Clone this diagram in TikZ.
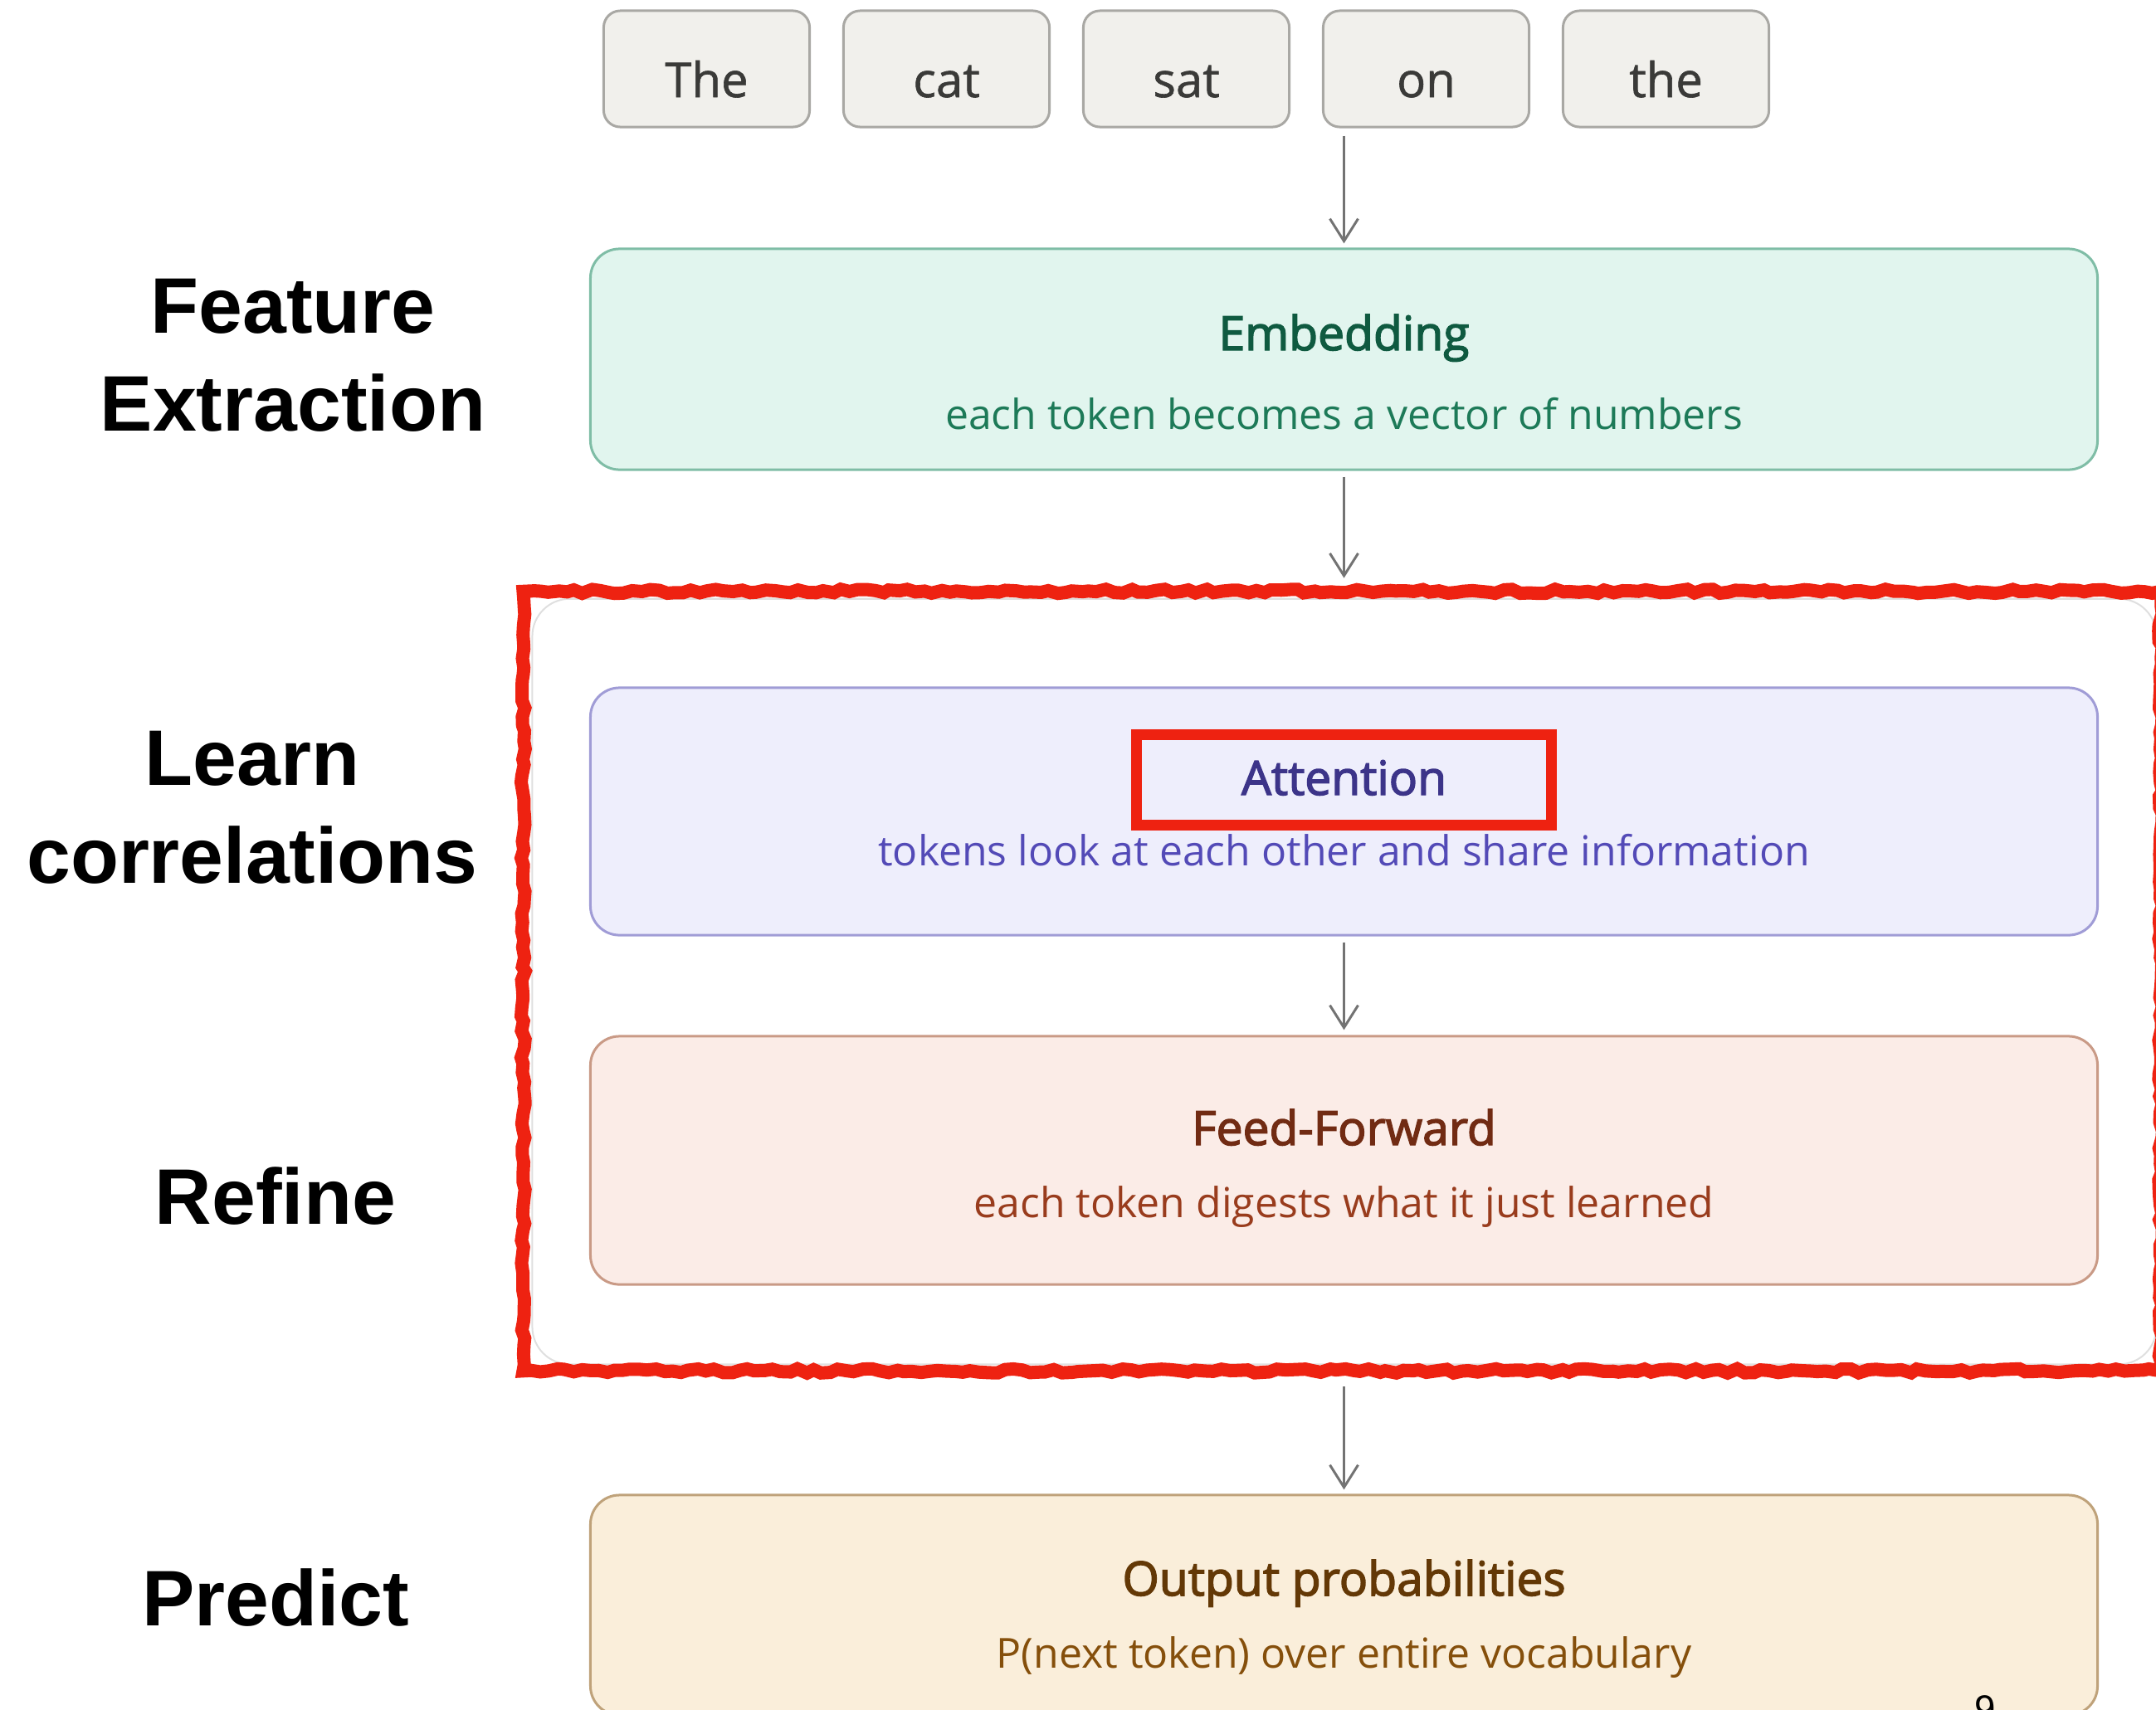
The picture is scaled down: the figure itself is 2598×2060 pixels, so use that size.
\documentclass[tikz,border=0pt]{standalone}
\usepackage{fontspec}
\setmainfont{Open Sans}
\newfontfamily\labelfont{Liberation Sans}
\newfontfamily\titlefont[FakeBold=2.5]{Open Sans}
\newfontfamily\tokenfont[FakeBold=1]{Open Sans}
\usepackage{xcolor}
\usepackage{tikz}
\usetikzlibrary{arrows.meta,decorations.pathmorphing}

\definecolor{tokfill}{HTML}{F1F0EC}
\definecolor{tokline}{HTML}{A9A8A4}
\definecolor{tokink}{HTML}{3A3A38}
\definecolor{embfill}{HTML}{E1F5EE}
\definecolor{embline}{HTML}{7FBDA6}
\definecolor{embhead}{HTML}{0F5A40}
\definecolor{embsub}{HTML}{1D7A58}
\definecolor{attfill}{HTML}{EEEEFC}
\definecolor{attline}{HTML}{A09CD6}
\definecolor{atthead}{HTML}{3C3489}
\definecolor{attsub}{HTML}{534AB7}
\definecolor{fffill}{HTML}{FBECE7}
\definecolor{ffline}{HTML}{C99A86}
\definecolor{ffhead}{HTML}{712B13}
\definecolor{ffsub}{HTML}{993C1D}
\definecolor{outfill}{HTML}{FAEEDA}
\definecolor{outedge}{HTML}{BFA27A}
\definecolor{outhead}{HTML}{633806}
\definecolor{outsub}{HTML}{854F0B}
\definecolor{arrowgray}{HTML}{737373}
\definecolor{markred}{HTML}{EE2211}

\begin{document}
\pgfmathsetseed{7}
\begin{tikzpicture}[x=0.01cm,y=-0.01cm,
  token/.style={draw=tokline,fill=tokfill,line width=0.3mm,rounded corners=2mm,
    minimum width=2.48cm,minimum height=1.40cm,text height=6.8mm,text depth=0pt,
    text=tokink,font=\tokenfont\fontsize{16.5}{20}\selectfont},
  stage/.style={line width=0.3mm,rounded corners=3.5mm,minimum width=18.15cm},
  head/.style={anchor=base,font=\titlefont\fontsize{16.2}{20}\selectfont},
  sub/.style={anchor=base,font=\fontsize{14.2}{18}\selectfont},
  side/.style={anchor=base,align=center,font=\labelfont\bfseries\fontsize{27}{33.3}\selectfont},
  flow/.style={draw=arrowgray,line width=0.3mm,-{Straight Barb[length=2.7mm,width=3.4mm]}}]
  \useasboundingbox (0,0) rectangle (2598,2060);
  \clip (0,0) rectangle (2598,2060);

  % input tokens
  \foreach \w [count=\i] in {The,cat,sat,on,the}
    \node[token] (tok\i) at ({851.5+289*(\i-1)},83) {\w};

  % embedding
  \node[stage,draw=embline,fill=embfill,minimum height=2.66cm] (embed) at (1619.5,433) {};
  \node[head,text=embhead] (embedT) at (1619.5,422) {Embedding};
  \node[sub,text=embsub] (embedS) at (1619.5,517) {each token becomes a vector of numbers};

  % transformer block
  \node[draw=gray!25,line width=0.2mm,rounded corners=4.5mm,minimum width=19.56cm,
    minimum height=9.22cm] (block) at (1620,1183) {};
  \node[stage,draw=attline,fill=attfill,minimum height=2.98cm] (attn) at (1619.5,978) {};
  \node[head,text=atthead] (attnT) at (1619.5,958) {Attention};
  \node[sub,text=attsub] (attnS) at (1619.5,1043) {tokens look at each other and share information};
  \node[draw=markred,line width=1.3mm,minimum width=4.99cm,minimum height=1.08cm] (attnmark) at (1619.5,940) {};

  \node[stage,draw=ffline,fill=fffill,minimum height=2.99cm] (ffwd) at (1619.5,1398.5) {};
  \node[head,text=ffhead] (ffwdT) at (1619.5,1380) {Feed-Forward};
  \node[sub,text=ffsub] (ffwdS) at (1619.5,1467) {each token digests what it just learned};

  \node[draw=markred,line width=1.6mm,minimum width=19.72cm,minimum height=9.39cm,
    decorate,decoration={random steps,segment length=1mm,amplitude=0.25mm}] (frame) at (1617,1182.5) {};

  % output
  \node[stage,draw=outedge,fill=outfill,minimum height=2.65cm] (outp) at (1619.5,1934.5) {};
  \node[head,text=outhead] (outpT) at (1619.5,1923) {Output probabilities};
  \node[sub,text=outsub] (outpS) at (1619.5,2010) {P(next token) over entire vocabulary};

  % side labels (base = last line)
  \node[side] (lblFeat) at (353,519) {Feature\\Extraction};
  \node[side] (lblLearn) at (304,1064) {Learn\\correlations};
  \node[side] (lblRefine) at (332,1475) {Refine};
  \node[side] (lblPredict) at (332,1959) {Predict};

  \node[anchor=north,inner sep=0pt,font=\labelfont\fontsize{13}{15}\selectfont] (pagenum) at (2392,2043) {9};

  % flow
  \draw[flow,shorten <=0.9mm,shorten >=0.5mm] (tok4.south -| embed.north) -- (embed.north);
  \draw[flow,shorten <=0.7mm,shorten >=0.8mm] (embed.south) -- (embed.south |- frame.north);
  \draw[flow,shorten <=0.7mm,shorten >=0.6mm] (attn.south) -- (ffwd.north);
  \draw[flow,shorten <=1.1mm,shorten >=0.5mm] (outp.north |- frame.south) -- (outp.north);
\end{tikzpicture}
\end{document}
